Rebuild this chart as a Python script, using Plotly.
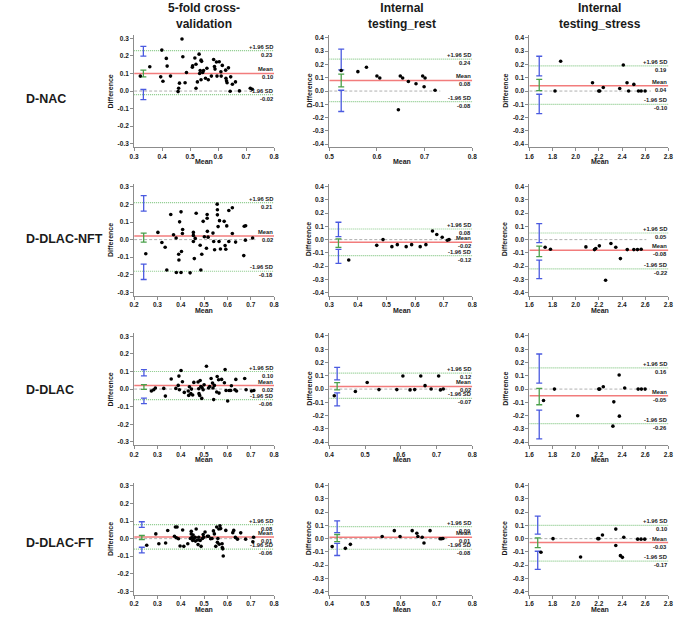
import plotly.graph_objects as go

W, H = 699, 628

COL_TITLES = ["5-fold cross-<br>validation", "Internal<br>testing_rest", "Internal<br>testing_stress"]
ROW_LABELS = ["D-NAC", "D-DLAC-NFT", "D-DLAC", "D-DLAC-FT"]

# ---------------- data: (mean of two methods, difference) ----------------
NAC_CV_X = [0.322,0.356,0.395,0.399,0.403,0.415,0.418,0.430,0.457,0.459,0.462,0.471,0.474,0.482,0.487,0.508,0.509,0.517,0.521,0.521,0.526,0.532,0.534,0.536,0.539,0.541,0.539,0.545,0.548,0.555,0.560,0.565,0.576,0.584,0.587,0.589,0.594,0.596,0.604,0.610,0.611,0.615,0.627,0.628,0.630,0.632,0.637,0.643,0.645,0.651,0.662,0.676,0.715,0.722]
NAC_CV_Y = [0.085,0.138,0.081,0.233,0.056,0.186,0.142,0.085,-0.003,0.016,0.045,0.296,0.195,0.047,0.106,0.136,0.144,0.188,0.153,0.016,0.052,0.210,0.100,0.117,0.176,0.169,0.064,0.106,0.117,0.073,0.130,0.064,0.085,0.180,0.140,0.125,0.165,0.085,0.167,0.110,0.085,0.146,0.119,0.073,0.058,0.047,0.132,-0.001,0.081,0.039,0.052,0.001,0.016,0.010]
NAC_CV_STATS = [0.10, 0.23, -0.02]          # mean, +1.96 SD, -1.96 SD
NAC_CV_CI = [[0.199,0.254],[0.081,0.119],[-0.049,0.009]]

NAC_REST_X = [0.525,0.560,0.578,0.600,0.606,0.645,0.649,0.654,0.666,0.682,0.696,0.699,0.701,0.722]
NAC_REST_Y = [0.155,0.146,0.179,0.113,0.098,-0.141,0.113,0.098,0.072,0.055,0.113,0.032,0.098,0.006]
NAC_REST_STATS = [0.08, 0.24, -0.08]
NAC_REST_CI = [[0.159,0.316],[0.032,0.128],[-0.154,0.006]]

NAC_STRESS_X = [1.821,1.870,2.145,2.199,2.207,2.238,2.380,2.411,2.443,2.457,2.502,2.542,2.565,2.599]
NAC_STRESS_Y = [0.0,0.224,0.063,0.0,0.0,0.027,0.019,0.196,0.063,0.0,0.050,0.0,0.0,0.0]
NAC_STRESS_STATS = [0.04, 0.19, -0.10]
NAC_STRESS_CI = [[0.114,0.262],[0.004,0.088],[-0.170,-0.024]]

NFT_CV_X = [0.250,0.302,0.319,0.333,0.340,0.357,0.369,0.380,0.381,0.391,0.392,0.395,0.401,0.403,0.401,0.407,0.408,0.440,0.454,0.454,0.454,0.458,0.462,0.466,0.483,0.486,0.490,0.496,0.501,0.510,0.513,0.513,0.514,0.517,0.538,0.541,0.545,0.556,0.557,0.557,0.560,0.564,0.566,0.570,0.586,0.590,0.593,0.597,0.606,0.606,0.621,0.621,0.635,0.670,0.672,0.678,0.677,0.708]
NFT_CV_Y = [-0.080,0.041,-0.016,-0.043,-0.173,0.143,0.028,0.009,-0.187,-0.083,-0.116,0.101,0.158,-0.068,-0.187,0.035,0.058,-0.189,0.041,0.024,-0.011,-0.108,0.007,0.150,-0.032,-0.173,-0.083,0.104,0.016,-0.049,0.122,0.143,0.047,0.014,0.037,-0.011,-0.058,0.202,0.170,0.141,0.074,-0.011,0.108,-0.053,0.104,-0.034,-0.055,0.078,-0.011,0.166,0.181,0.035,-0.014,-0.091,0.076,0.079,-0.003,0.009]
NFT_CV_STATS = [0.02, 0.21, -0.18]
NFT_CV_CI = [[0.162,0.250],[-0.014,0.037],[-0.227,-0.139]]

NFT_REST_X = [0.368,0.466,0.488,0.519,0.538,0.569,0.588,0.618,0.638,0.661,0.676,0.695,0.713,0.719]
NFT_REST_Y = [-0.153,-0.043,0.0,-0.053,-0.038,-0.053,-0.038,-0.053,-0.038,0.065,0.038,0.018,-0.005,0.0]
NFT_REST_STATS = [-0.02, 0.08, -0.12]
NFT_REST_CI = [[0.023,0.131],[-0.058,0.005],[-0.179,-0.073]]

NFT_STRESS_X = [1.736,1.782,2.088,2.162,2.173,2.204,2.258,2.304,2.346,2.386,2.445,2.502,2.533,2.565]
NFT_STRESS_Y = [-0.057,-0.072,-0.055,-0.075,-0.067,-0.047,-0.306,-0.029,-0.057,-0.143,-0.075,-0.075,-0.075,-0.072]
NFT_STRESS_STATS = [-0.08, 0.05, -0.22]
NFT_STRESS_CI = [[-0.022,0.120],[-0.128,-0.049],[-0.293,-0.154]]

DLAC_CV_X = [0.274,0.284,0.291,0.327,0.334,0.359,0.379,0.389,0.392,0.394,0.401,0.407,0.415,0.432,0.434,0.437,0.443,0.446,0.451,0.456,0.474,0.477,0.478,0.481,0.483,0.486,0.490,0.491,0.496,0.500,0.510,0.519,0.524,0.530,0.536,0.538,0.541,0.544,0.554,0.556,0.562,0.564,0.575,0.587,0.590,0.594,0.601,0.607,0.614,0.617,0.632,0.636,0.639,0.674,0.680,0.703,0.713]
DLAC_CV_Y = [-0.011,-0.004,0.006,0.004,-0.040,0.057,0.004,0.021,0.074,-0.004,0.106,0.042,-0.019,-0.011,-0.036,0.013,-0.026,0.0,-0.034,0.038,0.040,0.002,-0.026,-0.036,0.049,0.015,-0.053,0.009,-0.004,0.025,0.130,0.006,0.015,0.060,0.034,0.006,-0.060,0.021,-0.017,0.072,0.053,-0.023,0.055,0.036,0.111,-0.008,-0.068,-0.008,-0.008,0.019,-0.004,0.055,-0.011,0.060,-0.004,-0.011,-0.008]
DLAC_CV_STATS = [0.02, 0.10, -0.06]
DLAC_CV_CI = [[0.075,0.111],[-0.002,0.025],[-0.083,-0.051]]

DLAC_REST_X = [0.414,0.473,0.506,0.539,0.589,0.606,0.626,0.639,0.656,0.668,0.685,0.706,0.711,0.719]
DLAC_REST_Y = [-0.050,-0.018,0.050,-0.004,-0.004,0.099,-0.006,-0.004,0.099,0.026,0.001,0.099,-0.006,0.001]
DLAC_REST_STATS = [0.02, 0.12, -0.07]
DLAC_REST_CI = [[0.070,0.163],[-0.006,0.048],[-0.126,-0.028]]

DLAC_STRESS_X = [1.722,1.816,2.017,2.199,2.207,2.238,2.321,2.329,2.375,2.377,2.423,2.539,2.567,2.599]
DLAC_STRESS_Y = [-0.086,0.0,-0.201,0.0,0.0,0.018,-0.279,-0.096,0.106,-0.204,0.008,0.0,0.0,0.0]
DLAC_STRESS_STATS = [-0.05, 0.16, -0.26]
DLAC_STRESS_CI = [[0.045,0.264],[-0.118,0.005],[-0.375,-0.158]]

FT_CV_X = [0.254,0.293,0.306,0.335,0.344,0.373,0.377,0.381,0.384,0.390,0.397,0.408,0.413,0.430,0.441,0.445,0.445,0.448,0.451,0.453,0.456,0.462,0.463,0.466,0.472,0.474,0.477,0.483,0.487,0.493,0.496,0.498,0.504,0.514,0.519,0.528,0.534,0.540,0.544,0.550,0.554,0.557,0.559,0.563,0.565,0.568,0.571,0.577,0.578,0.580,0.582,0.593,0.623,0.627,0.634,0.643,0.657,0.678,0.709,0.712]
FT_CV_Y = [-0.038,0.027,-0.029,-0.025,0.046,0.014,0.066,0.005,0.066,-0.001,-0.042,0.049,-0.044,-0.029,0.001,0.042,0.027,0.008,-0.010,0.021,0.001,0.008,-0.014,0.055,-0.008,-0.034,0.008,-0.010,-0.044,0.001,0.023,0.008,0.038,0.014,0.014,-0.001,0.001,0.044,0.027,-0.044,0.066,-0.021,0.001,0.055,-0.032,0.073,0.057,-0.029,-0.051,-0.058,-0.099,0.047,0.034,0.047,0.007,-0.003,0.033,-0.003,-0.018,0.008]
FT_CV_STATS = [0.01, 0.08, -0.06]
FT_CV_CI = [[0.064,0.096],[-0.005,0.018],[-0.081,-0.049]]

FT_REST_X = [0.408,0.445,0.459,0.548,0.582,0.598,0.632,0.645,0.648,0.660,0.665,0.682,0.710,0.714,0.718]
FT_REST_Y = [-0.060,-0.073,-0.043,0.016,0.060,0.016,0.060,0.041,0.016,0.011,-0.033,0.060,-0.001,-0.001,0.001]
FT_REST_STATS = [0.01, 0.09, -0.08]
FT_REST_CI = [[0.046,0.134],[-0.023,0.031],[-0.127,-0.036]]

FT_STRESS_X = [1.700,1.804,2.042,2.191,2.200,2.231,2.346,2.346,2.386,2.403,2.415,2.535,2.564,2.596]
FT_STRESS_Y = [-0.103,0.0,-0.138,0.0,0.0,0.027,0.072,-0.052,-0.128,-0.141,0.011,-0.004,-0.004,-0.004]
FT_STRESS_STATS = [-0.03, 0.10, -0.17]
FT_STRESS_CI = [[0.034,0.169],[-0.067,0.006],[-0.232,-0.095]]

# x position of the CI bars, end of the zero line, x-axis ranges
CI_X = [0.333, 0.525, 1.685, 0.241, 0.332, 1.685, 0.242, 0.422, 1.685, 0.233, 0.422, 1.672]
ZERO_END = [0.725, 0.733, 2.65, 0.72, 0.748, 2.61, 0.72, 0.737, 2.64, 0.72, 0.735, 2.65]
X_RANGES = [[0.3,0.8],[0.5,0.8],[1.6,2.8],
            [0.2,0.8],[0.3,0.8],[1.6,2.8],
            [0.2,0.8],[0.4,0.8],[1.6,2.8],
            [0.2,0.8],[0.4,0.8],[1.6,2.8]]
X_DTICK = [0.1, 0.1, 0.2]
Y_TICKS_CV = [-0.3,-0.2,-0.1,0.0,0.1,0.2,0.3]
Y_TICKS_TEST = [-0.4,-0.3,-0.2,-0.1,0.0,0.1,0.2,0.3,0.4]

PANELS = [
    (NAC_CV_X, NAC_CV_Y, NAC_CV_STATS, NAC_CV_CI),
    (NAC_REST_X, NAC_REST_Y, NAC_REST_STATS, NAC_REST_CI),
    (NAC_STRESS_X, NAC_STRESS_Y, NAC_STRESS_STATS, NAC_STRESS_CI),
    (NFT_CV_X, NFT_CV_Y, NFT_CV_STATS, NFT_CV_CI),
    (NFT_REST_X, NFT_REST_Y, NFT_REST_STATS, NFT_REST_CI),
    (NFT_STRESS_X, NFT_STRESS_Y, NFT_STRESS_STATS, NFT_STRESS_CI),
    (DLAC_CV_X, DLAC_CV_Y, DLAC_CV_STATS, DLAC_CV_CI),
    (DLAC_REST_X, DLAC_REST_Y, DLAC_REST_STATS, DLAC_REST_CI),
    (DLAC_STRESS_X, DLAC_STRESS_Y, DLAC_STRESS_STATS, DLAC_STRESS_CI),
    (FT_CV_X, FT_CV_Y, FT_CV_STATS, FT_CV_CI),
    (FT_REST_X, FT_REST_Y, FT_REST_STATS, FT_REST_CI),
    (FT_STRESS_X, FT_STRESS_Y, FT_STRESS_STATS, FT_STRESS_CI),
]

# ---------------- layout geometry (pixels in the window) ----------------
COL_PX = [(131, 273), (329, 474), (532, 673)]
ROW_CY = [90.2, 239.0, 388.7, 538.5]
ROW_LAB_Y = [98, 238, 390, 543]
HALF = 56
Y_HALF = [HALF / 176.0, HALF / 133.0, HALF / 133.0]
COL_CX = [202, 403, 604]
DIFF_X = [107, 308, 507]


def px(x):
    return x / W


def py(y):
    return 1 - y / H


FONT = "Liberation Sans, Arial, sans-serif"
TXT = "#1a1a1a"
AX = "#8c8c8c"
RED = "#f27c7c"
GREEN_LINE = "#86c886"
ZERO = "#b0b0b0"
BLUE = "#4a5ae0"
GREEN_CI = "#4aa04a"

fig = go.Figure()
annotations = []

for i, (xs, ys, st, ci) in enumerate(PANELS):
    r, c = divmod(i, 3)
    n = i + 1
    xa = "x" if n == 1 else f"x{n}"
    ya = "y" if n == 1 else f"y{n}"
    xr = X_RANGES[i]
    x0, x1 = COL_PX[c]
    cy = ROW_CY[r]
    yh = Y_HALF[c]

    # zero line (line of equality)
    fig.add_trace(go.Scatter(x=[xr[0], ZERO_END[i]], y=[0, 0], mode="lines",
                             line=dict(color=ZERO, width=1, dash="3px,2px"),
                             xaxis=xa, yaxis=ya, showlegend=False, hoverinfo="skip"))
    # limits of agreement
    for v in (st[1], st[2]):
        fig.add_trace(go.Scatter(x=xr, y=[v, v], mode="lines",
                                 line=dict(color=GREEN_LINE, width=1.2, dash="1px,1px"),
                                 xaxis=xa, yaxis=ya, showlegend=False, hoverinfo="skip"))
    # mean difference
    fig.add_trace(go.Scatter(x=xr, y=[st[0], st[0]], mode="lines",
                             line=dict(color=RED, width=1.5),
                             xaxis=xa, yaxis=ya, showlegend=False, hoverinfo="skip"))
    # confidence intervals
    for (lo, hi), col in zip(ci, (BLUE, GREEN_CI, BLUE)):
        mid = (lo + hi) / 2
        fig.add_trace(go.Scatter(x=[CI_X[i]], y=[mid], mode="markers",
                                 marker=dict(size=1, opacity=0),
                                 error_y=dict(type="data", symmetric=False,
                                              array=[hi - mid], arrayminus=[mid - lo],
                                              color=col, thickness=1.3, width=3),
                                 xaxis=xa, yaxis=ya, showlegend=False, hoverinfo="skip"))
    # data points
    fig.add_trace(go.Scatter(x=xs, y=ys, mode="markers",
                             marker=dict(color="black", size=3.6),
                             xaxis=xa, yaxis=ya, showlegend=False))

    yt = Y_TICKS_CV if c == 0 else Y_TICKS_TEST
    dt = X_DTICK[c]
    nx = int(round((xr[1] - xr[0]) / dt)) + 1
    xt = [round(xr[0] + k * dt, 1) for k in range(nx)]

    axis_common = dict(showgrid=False, zeroline=False, showline=True, linecolor=AX,
                       linewidth=1, ticks="outside", ticklen=3, tickcolor=AX,
                       tickfont=dict(family=FONT, size=6.5, color=TXT, weight="bold"))
    fig.layout[f"xaxis{'' if n == 1 else n}"] = dict(
        domain=[px(x0), px(x1)], range=xr, anchor=ya,
        tickvals=xt, ticktext=[f"{v:.1f}" for v in xt], **axis_common)
    fig.layout[f"yaxis{'' if n == 1 else n}"] = dict(
        domain=[py(cy + HALF), py(cy - HALF)], range=[-yh, yh], anchor=xa,
        tickvals=yt, ticktext=[f"{v:.1f}" for v in yt], **axis_common)

    # right-hand labels
    lab_font = dict(family=FONT, size=5.8, color=TXT, weight="bold")
    for name, v in (("+1.96 SD", st[1]), ("Mean", st[0]), ("-1.96 SD", st[2])):
        annotations.append(dict(x=xr[1], y=v, xref=xa, yref=ya, text=name, showarrow=False,
                                xanchor="right", yanchor="bottom", font=lab_font,
                                borderpad=0, yshift=0))
        annotations.append(dict(x=xr[1], y=v, xref=xa, yref=ya, text=f"{v:.2f}", showarrow=False,
                                xanchor="right", yanchor="top", font=lab_font,
                                borderpad=0, yshift=0))

    # axis titles
    ax_font = dict(family=FONT, size=7, color=TXT, weight="bold")
    annotations.append(dict(x=px(DIFF_X[c]), y=py(cy), xref="paper", yref="paper",
                            text="Difference", textangle=-90, showarrow=False,
                            xanchor="center", yanchor="middle", font=ax_font))
    annotations.append(dict(x=px(COL_CX[c]), y=py(cy + HALF + 15), xref="paper", yref="paper",
                            text="Mean", showarrow=False, xanchor="center", yanchor="middle",
                            font=ax_font))

for c, t in enumerate(COL_TITLES):
    annotations.append(dict(x=px(COL_CX[c]), y=py(15.5), xref="paper", yref="paper",
                            text=t, showarrow=False, xanchor="center", yanchor="middle",
                            font=dict(family=FONT, size=12, color=TXT, weight="bold")))
for r, t in enumerate(ROW_LABELS):
    annotations.append(dict(x=px(20), y=py(ROW_LAB_Y[r]), xref="paper", yref="paper",
                            text=t, showarrow=False, xanchor="left", yanchor="middle",
                            borderpad=0,
                            font=dict(family=FONT, size=12.5, color=TXT, weight="bold")))

fig.update_layout(width=W, height=H, autosize=False,
                  margin=dict(l=0, r=0, t=0, b=0),
                  paper_bgcolor="white", plot_bgcolor="white",
                  annotations=annotations, showlegend=False)

fig.write_html("out.html", config={"displayModeBar": False},
               post_script="document.body.style.margin='0px';")
